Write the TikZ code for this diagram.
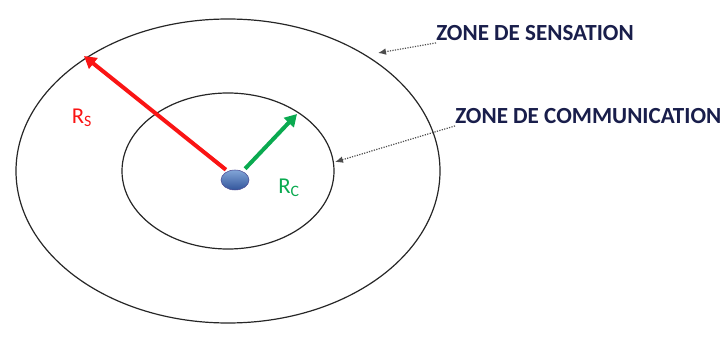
\documentclass[tikz,border=0pt]{standalone}
\usepackage{fontspec}
\setmainfont{Carlito}
\usetikzlibrary{arrows.meta,shapes.geometric}
\definecolor{bleunuit}{RGB}{25,30,75}
\definecolor{rouge}{RGB}{250,20,20}
\definecolor{vert}{RGB}{10,170,80}
\tikzset{
  zone/.style={draw=black!85, line width=0.9pt},
  rayon/.style={line width=3pt, -{Triangle[length=9pt,width=10pt]}},
  renvoi/.style={densely dotted, line width=0.9pt, black!70, -{Latex[length=6pt,width=5pt]}},
  etiquette/.style={font=\bfseries\fontsize{17.3}{19}\selectfont, text=bleunuit, inner sep=0pt, anchor=west}
}
\begin{document}
\begin{tikzpicture}[x=0.75pt, y=-0.75pt]
\useasboundingbox (0,0) rectangle (725,342);
% Zones
\draw[zone] (228,171) ellipse (159pt and 114pt);
\draw[zone] (228,171) ellipse (79.5pt and 58.5pt);
\coordinate (bordS) at (84,56);
\coordinate (bordC) at (297,114);
\coordinate (flecheS) at (378,53);
\coordinate (flecheC) at (335,162);
% Capteur
\node[ellipse, minimum width=21pt, minimum height=15pt, inner sep=0pt, draw=blue!40!black!70,
  top color={rgb,255:red,130;green,165;blue,215}, bottom color={rgb,255:red,50;green,85;blue,155}] (noeud) at (235,180) {};
% Rayons
\draw[rayon, rouge] (noeud.north west) ++(1,-3) -- (bordS);
\draw[rayon, vert] (noeud.north east) ++(0,-4) -- (bordC);
\node[rouge, font=\fontsize{17}{19}\selectfont] (rs) at (82,118) {R\textsubscript{S}};
\node[vert, font=\fontsize{17}{19}\selectfont] (rc) at (289,188) {R\textsubscript{C}};
% Legendes
\node[etiquette] (sens) at (436,33) {ZONE DE SENSATION};
\node[etiquette] (comm) at (455,116) {ZONE DE COMMUNICATION};
\draw[renvoi] (sens.south west) ++(0,2) -- (flecheS);
\draw[renvoi] (comm.south west) ++(0,2) -- (flecheC);
\end{tikzpicture}
\end{document}
